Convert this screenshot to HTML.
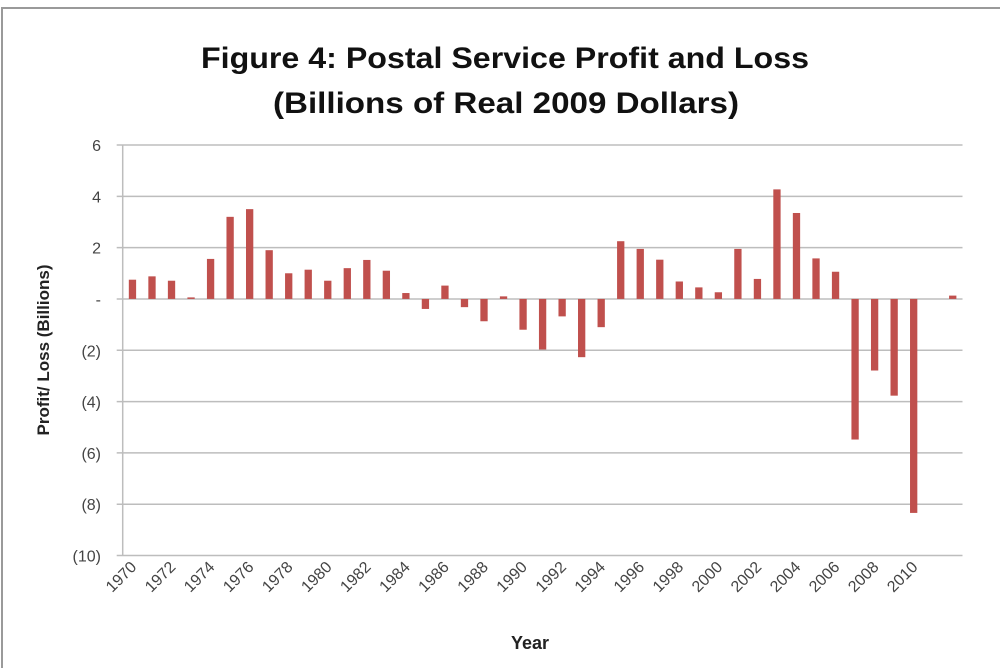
<!DOCTYPE html>
<html><head><meta charset="utf-8"><style>
html,body{margin:0;padding:0;background:#fff}
svg{display:block;font-family:"Liberation Sans",sans-serif}
</style></head><body>
<svg id="chart" width="1000" height="668" viewBox="0 0 1000 668">
<rect x="2" y="8" width="1000" height="670" fill="#fff" stroke="#9a9a9a" stroke-width="2"/>
<text x="505" y="68" text-anchor="middle" font-size="30" font-weight="bold" fill="#111" textLength="608" lengthAdjust="spacingAndGlyphs">Figure 4: Postal Service Profit and Loss</text>
<text x="506" y="113" text-anchor="middle" font-size="30" font-weight="bold" fill="#111" textLength="466" lengthAdjust="spacingAndGlyphs">(Billions of Real 2009 Dollars)</text>
<g id="grid"></g><g id="bars"></g><g id="yticks"></g><g id="xticks"></g>
<text transform="translate(49,350) rotate(-90)" text-anchor="middle" font-size="17" font-weight="bold" fill="#222">Profit/ Loss (Billions)</text>
<text x="530" y="649" text-anchor="middle" font-size="18" font-weight="bold" fill="#222">Year</text>
</svg>
<script>
const years = [];
for (let y = 1970; y <= 2012; y++) years.push(y);
const values = [0.75,0.88,0.71,0.06,1.56,3.2,3.5,1.9,1.0,1.14,0.71,1.2,1.52,1.1,0.23,-0.39,0.52,-0.32,-0.87,0.1,
-1.2,-1.97,-0.68,-2.27,-1.1,2.25,1.95,1.53,0.68,0.45,0.26,1.95,0.78,4.27,3.35,1.58,1.06,-5.48,-2.79,-3.77,-8.34,0,0.13];
const yTickValues = [6,4,2,0,-2,-4,-6,-8,-10];
const yTickLabels = ["6","4","2","-","(2)","(4)","(6)","(8)","(10)"];
const xLabelYears = [1970,1972,1974,1976,1978,1980,1982,1984,1986,1988,1990,1992,1994,1996,1998,2000,2002,2004,2006,2008,2010];

const NS="http://www.w3.org/2000/svg";
const L=122.7, R=962.5, T=145, B=555.5, yMin=-10, yMax=6;
const band=(R-L)/years.length;
const ys=v=>B-(v-yMin)/(yMax-yMin)*(B-T);
const xc=i=>L+band*(i+0.5);
function mk(tag,attrs,parent){const e=document.createElementNS(NS,tag);for(const k in attrs)e.setAttribute(k,attrs[k]);parent.appendChild(e);return e;}
const grid=document.getElementById('grid'),bars=document.getElementById('bars'),yt=document.getElementById('yticks'),xt=document.getElementById('xticks');
yTickValues.forEach((v,i)=>{
  const y=ys(v);
  const ln=mk('line',{x1:L-6,x2:R,y1:y,y2:y,stroke:'#bdbdbd','stroke-width':1.5},grid);
  
  
  const t=mk('text',{x:101,y:y+6,'text-anchor':'end','font-size':16,fill:'#444'},yt);
  t.textContent=yTickLabels[i];
  
  
});
const ax=mk('line',{x1:L,x2:L,y1:T,y2:B,stroke:'#bdbdbd','stroke-width':1.5},grid);


const bw=7.3;
values.forEach((v,i)=>{
  if(v===null||v===0)return;
  const y0=ys(0),y1=ys(v);
  const r=mk('rect',{x:xc(i)-bw/2,y:Math.min(y0,y1),width:bw,height:Math.max(Math.abs(y1-y0),1),fill:'#c0504d'},bars);
  
  
});
xLabelYears.forEach(yr=>{
  const i=years.indexOf(yr);
  const x=xc(i)+5,y=568;
  const t=mk('text',{x:x,y:y,'text-anchor':'end','font-size':16,fill:'#444',transform:`rotate(-45 ${x} ${y})`},xt);
  t.textContent=String(yr);
  
  
});
</script>
</body></html>
